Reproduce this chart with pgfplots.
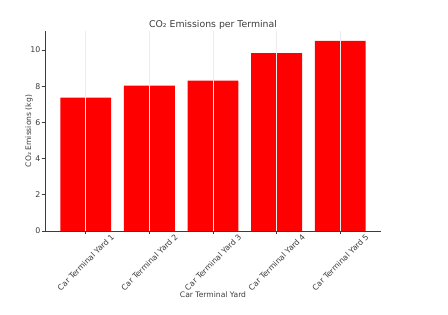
\documentclass[border=0pt]{standalone}
\usepackage{pgfplots}
\pgfplotsset{compat=1.18}
\usepackage{fontspec}
\setmainfont{DejaVu Sans}
\definecolor{txt}{RGB}{60,60,60}
\definecolor{barred}{RGB}{255,0,0}
\begin{document}
\begin{tikzpicture}
\useasboundingbox (0,0) rectangle (336pt,235.5pt);
\begin{axis}[
  at={(33.75pt,62.25pt)}, anchor=south west,
  scale only axis, width=252pt, height=150pt,
  xmin=-0.64, xmax=4.64, ymin=0, ymax=11.05,
  axis lines*=left,
  axis line style={txt, line width=0.6pt},
  xtick={0,1,2,3,4},
  xticklabels={Car Terminal Yard 1,Car Terminal Yard 2,Car Terminal Yard 3,Car Terminal Yard 4,Car Terminal Yard 5},
  ytick={0,2,4,6,8,10},
  xticklabel style={yshift=-21pt, rotate=45, anchor=center, font=\fontsize{5.9pt}{6pt}\selectfont, text=txt, inner sep=0pt},
  yticklabel style={font=\fontsize{5.9pt}{6pt}\selectfont, text=txt, inner sep=0.8pt},
  /pgf/number format/assume math mode=true,
  tick style={txt, line width=0.5pt},
  tick align=outside, major tick length=2.5pt,
  xmajorgrids, grid style={gray!15, line width=0.5pt},
  axis on top,
  title={CO₂ Emissions per Terminal},
  title style={font=\fontsize{7pt}{8pt}\selectfont, text=txt, at={(0.5,1)}, anchor=south, yshift=-8.5pt},
  xlabel={Car Terminal Yard},
  ylabel={CO₂ Emissions (kg)},
  label style={font=\fontsize{5.7pt}{6pt}\selectfont, text=txt},
  xlabel style={at={(0.5,0)}, anchor=center, yshift=-48pt},
  ylabel style={at={(0,0.5)}, anchor=center, yshift=12pt},
]
\addplot[ybar, bar width=0.8, fill=barred, draw=none, bar shift=0pt] coordinates {
(0,7.37) (1,8.03) (2,8.31) (3,9.83) (4,10.51)
};
\end{axis}
\end{tikzpicture}
\end{document}
